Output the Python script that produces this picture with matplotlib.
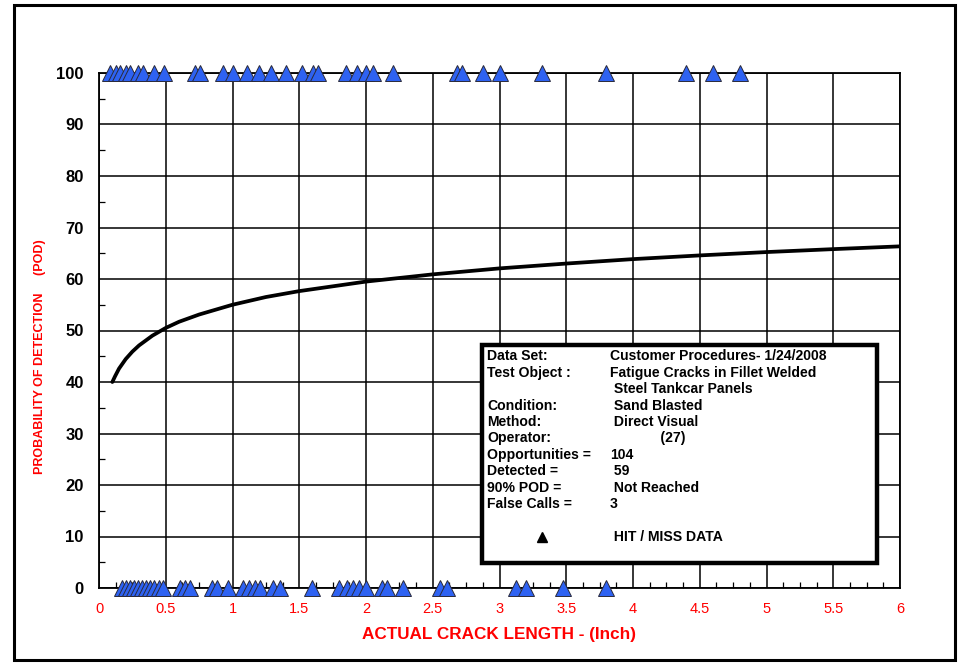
import matplotlib
matplotlib.use("Agg")
import matplotlib.pyplot as plt
from matplotlib.patches import Rectangle
from matplotlib.ticker import MultipleLocator

plt.rcParams['font.family'] = ['Liberation Sans', 'DejaVu Sans']

# Hit / miss crack lengths (inch)
hit_lengths = [0.08, 0.13, 0.16, 0.20, 0.23, 0.29, 0.33, 0.41, 0.49, 0.72, 0.76,
               0.93, 1.00, 1.11, 1.20, 1.29, 1.40, 1.52, 1.60, 1.64, 1.85, 1.93,
               2.00, 2.05, 2.20, 2.68, 2.72, 2.88, 3.00, 3.32, 3.80, 4.40, 4.60, 4.80]
miss_lengths = [0.17, 0.20, 0.23, 0.26, 0.29, 0.32, 0.355, 0.385, 0.415, 0.45, 0.48,
                0.61, 0.645, 0.68, 0.845, 0.885, 0.97, 1.08, 1.125, 1.17, 1.205,
                1.305, 1.355, 1.595, 1.80, 1.855, 1.905, 1.945, 2.00, 2.12, 2.16,
                2.28, 2.555, 2.605, 3.12, 3.20, 3.475, 3.80]

# Fitted POD curve (percent) vs crack length
curve_x = [0.10, 0.12, 0.15, 0.20, 0.25, 0.30, 0.40, 0.50, 0.60, 0.75, 1.00, 1.25,
           1.50, 2.00, 2.50, 3.00, 3.50, 4.00, 4.50, 5.00, 5.50, 6.00]
curve_pod = [40.0, 41.1, 42.6, 44.45, 45.9, 47.1, 49.0, 50.5, 51.7, 53.1, 55.0, 56.5,
             57.65, 59.5, 60.9, 62.06, 63.0, 63.86, 64.58, 65.23, 65.8, 66.34]

# Summary box contents
info_labels = ["Data Set:", "Test Object :", "", "Condition:", "Method:", "Operator:",
               "Opportunities =", "Detected =", "90% POD =", "False Calls ="]
info_values = ["Customer Procedures- 1/24/2008", "Fatigue Cracks in Fillet Welded",
               " Steel Tankcar Panels", " Sand Blasted", " Direct Visual",
               "             (27)", "104", " 59", " Not Reached", "3"]

x_ticks = [0, 0.5, 1, 1.5, 2, 2.5, 3, 3.5, 4, 4.5, 5, 5.5, 6]
x_tick_labels = ["0", "0.5", "1", "1.5", "2", "2.5", "3", "3.5", "4", "4.5", "5", "5.5", "6"]
y_ticks = [0, 10, 20, 30, 40, 50, 60, 70, 80, 90, 100]

fig = plt.figure(figsize=(9.64, 6.65), dpi=100)
ax = fig.add_axes([99 / 964, 1 - 588 / 665, 801 / 964, 515 / 665])

# outer frame
fig.patches.append(Rectangle((14 / 964, 5 / 665), 941 / 964, 655 / 665,
                             transform=fig.transFigure, fill=False,
                             edgecolor='black', linewidth=2.2))

ax.set_xlim(0, 6)
ax.set_ylim(0, 100)
ax.set_xticks(x_ticks)
ax.set_xticklabels(x_tick_labels)
ax.set_yticks(y_ticks)
ax.xaxis.set_minor_locator(MultipleLocator(0.125))
ax.yaxis.set_minor_locator(MultipleLocator(5))
ax.grid(True, which='major', color='black', linewidth=1.1)
ax.set_axisbelow(True)

ax.tick_params(axis='both', which='major', length=0)
ax.tick_params(axis='x', which='major', pad=10, labelsize=10.5, labelcolor='#FF0000')
ax.tick_params(axis='y', which='major', pad=11, labelsize=12)
ax.tick_params(axis='both', which='minor', direction='in', length=4, width=0.9,
               color='black')
for lbl in ax.get_yticklabels():
    lbl.set_fontweight('bold')

for sp in ax.spines.values():
    sp.set_linewidth(1.3)
    sp.set_color('black')

ax.set_xlabel("ACTUAL CRACK LENGTH - (Inch)", color='#FF0000', fontsize=12.3,
              fontweight='bold', labelpad=8)
fig.text(40 / 964, 1 - 357 / 665, "PROBABILITY OF DETECTION     (POD)", color='#FF0000',
         fontsize=9.0, fontweight='bold', rotation=90, ha='center', va='center')

ax.plot(curve_x, curve_pod, color='black', linewidth=2.7, solid_capstyle='round', zorder=3)

tri_kw = dict(linestyle='none', marker='^', markersize=12, markerfacecolor='#2E62F2',
              markeredgecolor='#2a2a3a', markeredgewidth=0.7, clip_on=False, zorder=5)
ax.plot(hit_lengths, [100] * len(hit_lengths), **tri_kw)
ax.plot(miss_lengths, [0] * len(miss_lengths), **tri_kw)

# summary box
bx0, by0 = (482 - 99) / 801, (588 - 563) / 515
bx1, by1 = (877 - 99) / 801, (588 - 345) / 515
ax.add_patch(Rectangle((bx0, by0), bx1 - bx0, by1 - by0, transform=ax.transAxes,
                       facecolor='white', edgecolor='black', linewidth=3.2, zorder=6))

line_px = [356, 373, 389, 406, 422, 438, 455, 471, 488, 504]
lx = (487 - 99) / 801
vx = (610 - 99) / 801
fs = 10.1
for lab, val, py in zip(info_labels, info_values, line_px):
    yy = (588 - py) / 515
    ax.text(lx, yy, lab, transform=ax.transAxes, fontsize=fs, fontweight='bold',
            va='center', ha='left', zorder=7)
    ax.text(vx, yy, val, transform=ax.transAxes, fontsize=fs, fontweight='bold',
            va='center', ha='left', zorder=7)

yy = (588 - 537) / 515
ax.plot([(542 - 99) / 801], [yy], transform=ax.transAxes, marker='^', markersize=6.5,
        color='black', linestyle='none', zorder=7)
ax.text(vx, yy, " HIT / MISS DATA", transform=ax.transAxes, fontsize=fs,
        fontweight='bold', va='center', ha='left', zorder=7)

fig.savefig("out.png", dpi=100)
